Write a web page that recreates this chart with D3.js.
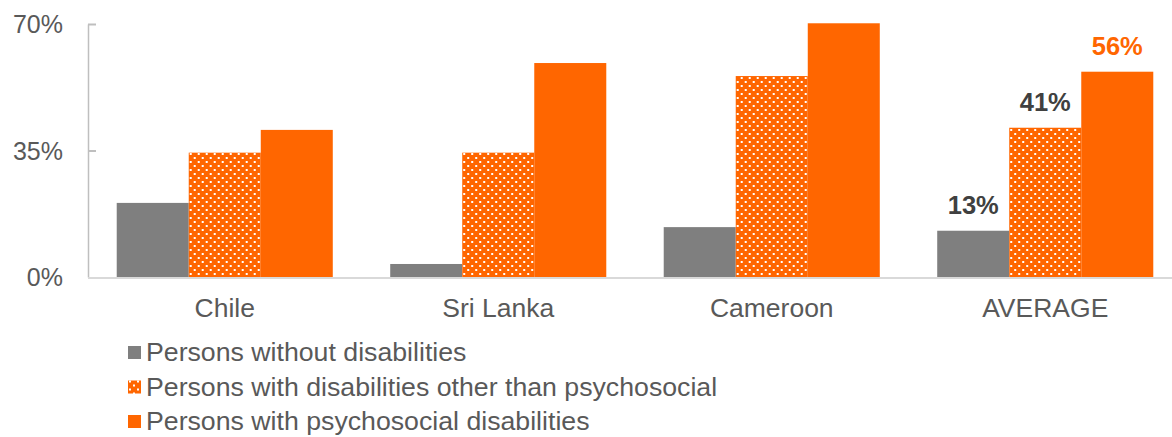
<!DOCTYPE html>
<html>
<head>
<meta charset="utf-8">
<script src="https://cdn.jsdelivr.net/npm/d3@7"></script>
<style>
  html, body { margin: 0; padding: 0; background: #fff; }
  svg { display: block; font-family: "Liberation Sans", Arial, sans-serif; }
</style>
</head>
<body>
<svg id="chart" width="1172" height="437"></svg>
<script>
const categories = ["Chile", "Sri Lanka", "Cameroon", "AVERAGE"];
const seriesNames = [
  "Persons without disabilities",
  "Persons with disabilities other than psychosocial",
  "Persons with psychosocial disabilities"
];
const withoutDisab = [20.5, 3.6, 13.8, 12.8];
const otherDisab = [34.4, 34.4, 55.6, 41.3];
const psychosocial = [40.7, 59.2, 70.2, 56.8];
const averageLabels = ["13%", "41%", "56%"];
const yTicks = [0, 35, 70];

const colors = ["#7f7f7f", "url(#dots)", "#ff6600"];
const labelColors = ["#404040", "#404040", "#ff6600"];
const seriesValues = [withoutDisab, otherDisab, psychosocial];

const svg = d3.select("#chart");

// dotted pattern
const defs = svg.append("defs");
const pat = defs.append("pattern").attr("id", "dots")
  .attr("patternUnits", "userSpaceOnUse").attr("width", 8).attr("height", 8);
pat.append("rect").attr("width", 8).attr("height", 8).attr("fill", "#ff6600");
pat.append("rect").attr("x", 1).attr("y", 1).attr("width", 2).attr("height", 2).attr("fill", "#fff");
pat.append("rect").attr("x", 5).attr("y", 5).attr("width", 2).attr("height", 2).attr("fill", "#fff");

const x0 = d3.scaleBand().domain(categories).range([88, 88 + 4 * 273.5]);
const groupW = x0.bandwidth() * 0.79;
const x1 = d3.scaleBand().domain(d3.range(3)).range([0, groupW]);
const y = d3.scaleLinear().domain([0, 70]).range([277, 24]);

// bars
const groups = svg.append("g").selectAll("g").data(categories).join("g")
  .attr("transform", c => `translate(${x0(c) + (x0.bandwidth() - groupW) / 2},0)`);
groups.selectAll("rect")
  .data((c, ci) => seriesValues.map((vals, si) => ({ si, v: vals[ci] })))
  .join("rect")
  .attr("x", d => x1(d.si))
  .attr("width", x1.bandwidth())
  .attr("y", d => y(d.v))
  .attr("height", d => y(0) - y(d.v))
  .attr("fill", d => colors[d.si]);

// y axis
const yAxis = d3.axisLeft(y).tickValues(yTicks).tickFormat(d => d + "%").tickSize(0).tickPadding(25);
const ag = svg.append("g").attr("transform", "translate(88,0)").call(yAxis);
ag.select(".domain").attr("stroke", "#bfbfbf").attr("stroke-width", 1.5);
ag.selectAll(".tick text").attr("fill", "#595959").attr("font-size", 25)
  .attr("font-family", "Liberation Sans, Arial, sans-serif").attr("dy", "0.34em");
ag.selectAll(".tick").filter(d => d > 0).append("line")
  .attr("x1", 0).attr("x2", 8).attr("stroke", "#bfbfbf").attr("stroke-width", 2);

// baseline
svg.append("line").attr("x1", 88).attr("x2", 1172).attr("y1", y(0) + 1).attr("y2", y(0) + 1)
  .attr("stroke", "#d9d9d9").attr("stroke-width", 2);

// category labels
svg.append("g").selectAll("text").data(categories).join("text")
  .attr("x", c => x0(c) + x0.bandwidth() / 2)
  .attr("y", 317)
  .attr("text-anchor", "middle")
  .attr("font-size", 26.5).attr("fill", "#595959")
  .text(c => c);

// average data labels
const avg = categories[3];
svg.append("g").selectAll("text").data(averageLabels).join("text")
  .attr("x", (t, si) => x0(avg) + (x0.bandwidth() - groupW) / 2 + x1(si) + x1.bandwidth() / 2)
  .attr("y", (t, si) => y(seriesValues[si][3]) - 17)
  .attr("text-anchor", "middle")
  .attr("font-size", 25.5).attr("font-weight", "bold")
  .attr("fill", (t, si) => labelColors[si])
  .text(t => t);

// legend
const lg = svg.append("g").selectAll("g").data(seriesNames).join("g")
  .attr("transform", (d, i) => `translate(128,${361 + i * 34.5})`);
lg.append("rect").attr("x", 0).attr("y", -15).attr("width", 13).attr("height", 13)
  .attr("fill", (d, i) => colors[i]);
lg.append("text").attr("x", 18).attr("y", 0)
  .attr("font-size", 26.7).attr("fill", "#595959").text(d => d);
</script>
</body>
</html>
